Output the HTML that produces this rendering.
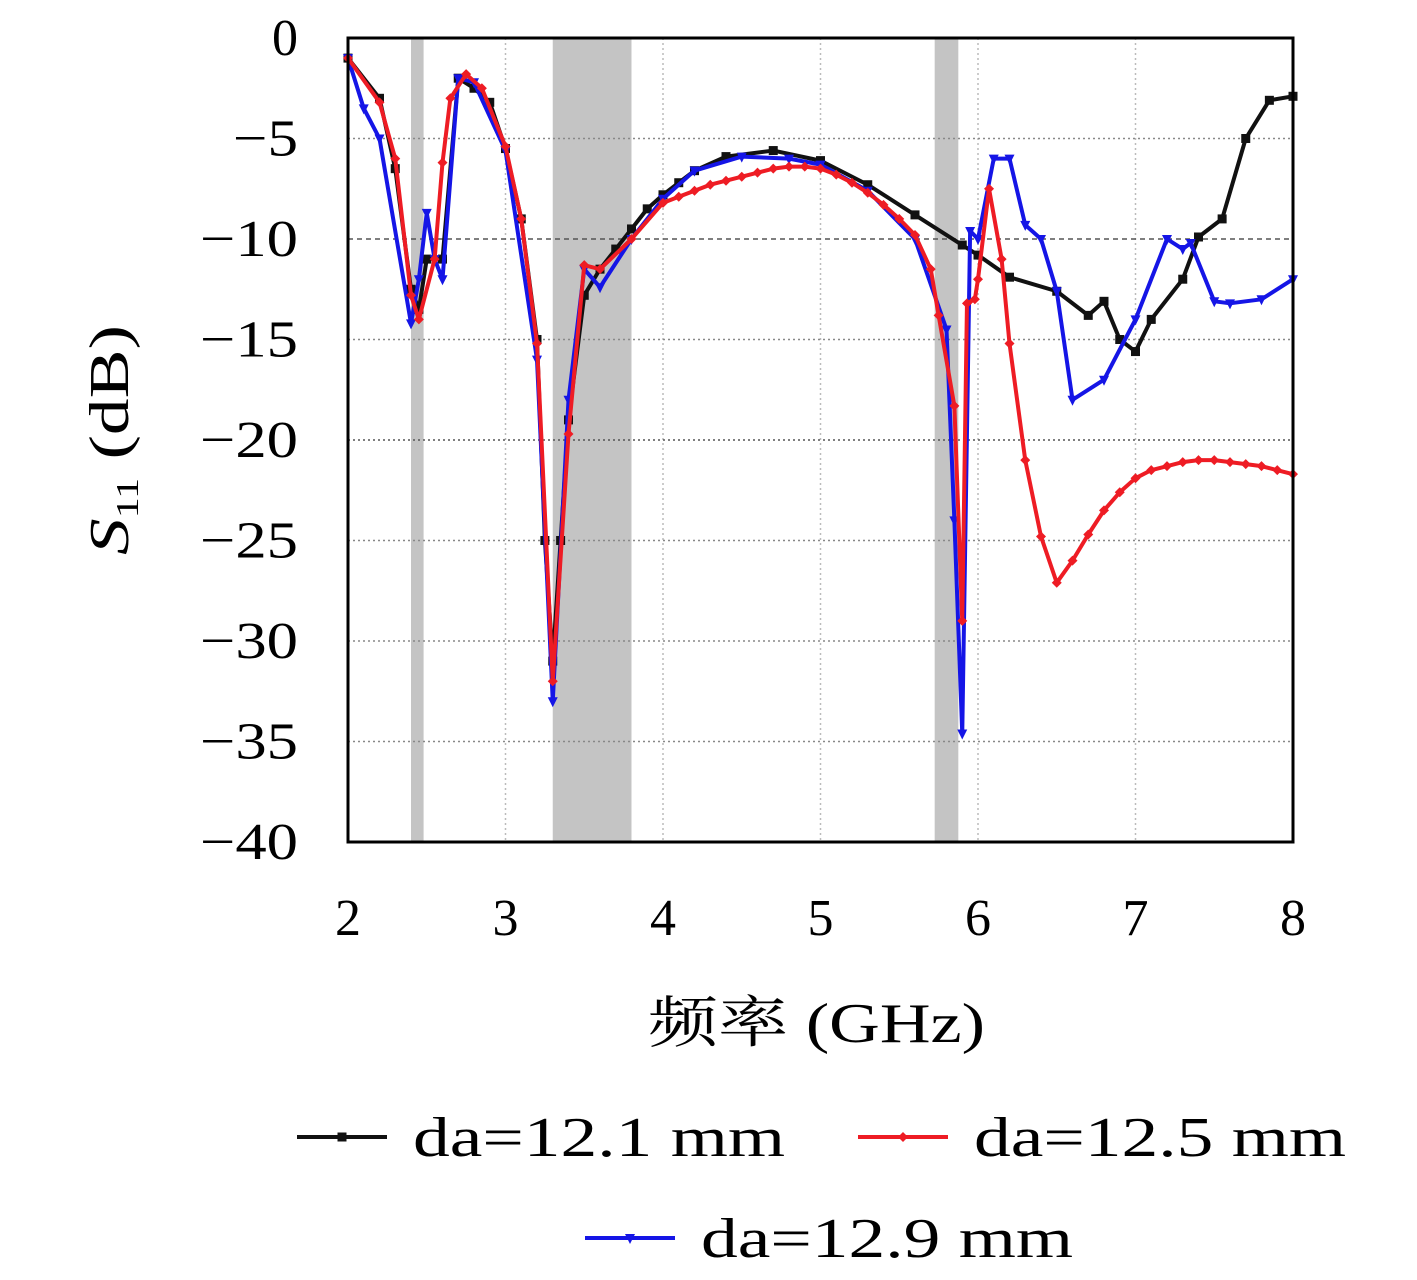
<!DOCTYPE html>
<html><head><meta charset="utf-8"><style>
body{margin:0;background:#fff;width:1417px;height:1275px;overflow:hidden}
svg text{font-family:"Liberation Serif","Noto Serif CJK SC",serif;fill:#000}
</style></head><body>
<svg id="chart" width="1417" height="1275" xmlns="http://www.w3.org/2000/svg">
<g id="bands"></g><g id="grid"></g><g id="series"></g><g id="axes"></g>
</svg>
<script>
const xTicks=[2,3,4,5,6,7,8];
const yTicks=[0,-5,-10,-15,-20,-25,-30,-35,-40];
const yTickLabels=["0","−5","−10","−15","−20","−25","−30","−35","−40"];
const bandStarts=[2.4,3.3,5.725];
const bandEnds=[2.48,3.8,5.875];
const f121=[2.0,2.2,2.3,2.4,2.45,2.5,2.6,2.7,2.8,2.9,3.0,3.1,3.2,3.25,3.3,3.35,3.4,3.5,3.6,3.7,3.8,3.9,4.0,4.1,4.2,4.4,4.7,5.0,5.3,5.6,5.9,6.0,6.2,6.5,6.7,6.8,6.9,7.0,7.1,7.3,7.4,7.55,7.7,7.85,8.0];
const s121=[-1,-3,-6.5,-12.5,-13.5,-11,-11,-2,-2.5,-3.2,-5.5,-9,-15,-25,-31,-25,-19,-12.8,-11.5,-10.5,-9.5,-8.5,-7.8,-7.2,-6.6,-5.9,-5.6,-6.1,-7.3,-8.8,-10.3,-10.8,-11.9,-12.6,-13.8,-13.1,-15,-15.6,-14,-12,-9.9,-9,-5,-3.1,-2.9];
const f125=[2.0,2.2,2.3,2.4,2.45,2.55,2.6,2.65,2.75,2.85,3.0,3.1,3.2,3.3,3.4,3.5,3.6,3.8,4.0,4.1,4.2,4.3,4.4,4.5,4.6,4.7,4.8,4.9,5.0,5.1,5.2,5.3,5.4,5.5,5.6,5.7,5.75,5.85,5.9,5.93,5.98,6.0,6.07,6.15,6.2,6.3,6.4,6.5,6.6,6.7,6.8,6.9,7.0,7.1,7.2,7.3,7.4,7.5,7.6,7.7,7.8,7.9,8.0];
const s125=[-1,-3.2,-6,-12.8,-14,-11,-6.2,-3,-1.8,-2.5,-5.4,-9,-15.2,-32,-19.7,-11.3,-11.5,-10,-8.2,-7.9,-7.6,-7.3,-7.1,-6.9,-6.7,-6.5,-6.4,-6.4,-6.5,-6.8,-7.2,-7.7,-8.3,-9,-9.8,-11.5,-13.8,-18.3,-29,-13.2,-13,-12,-7.5,-11,-15.2,-21,-24.8,-27.1,-26,-24.7,-23.5,-22.6,-21.9,-21.5,-21.3,-21.1,-21,-21,-21.1,-21.2,-21.3,-21.5,-21.7];
const f129=[2.0,2.1,2.2,2.4,2.45,2.5,2.55,2.6,2.7,2.8,3.0,3.2,3.3,3.4,3.5,3.6,3.8,4.0,4.2,4.5,4.8,5.0,5.3,5.6,5.8,5.85,5.9,5.95,6.0,6.1,6.2,6.3,6.4,6.5,6.6,6.8,7.0,7.2,7.3,7.35,7.5,7.6,7.8,8.0];
const s129=[-1,-3.5,-5,-14.2,-12,-8.7,-11,-12,-2,-2.2,-5.6,-16,-33,-18,-11.5,-12.4,-10,-8,-6.6,-5.9,-6,-6.3,-7.6,-10,-14.5,-24,-34.6,-9.6,-10,-6,-6,-9.3,-10,-12.6,-18,-17,-14,-10,-10.5,-10.2,-13.1,-13.2,-13,-12];
const L=348,R=1293,T=38,B=842;
const xs=v=>L+(v-2)/6*(R-L);
const ys=v=>T+(0-v)/40*(B-T);
const NS="http://www.w3.org/2000/svg";
function mk(tag,attrs,parent){const e=document.createElementNS(NS,tag);for(const k in attrs)e.setAttribute(k,attrs[k]);parent.appendChild(e);return e;}
const bands=document.getElementById('bands'),grid=document.getElementById('grid'),ser=document.getElementById('series'),axes=document.getElementById('axes');
bandStarts.forEach((s,i)=>{const r=mk('rect',{x:xs(s),y:T,width:xs(bandEnds[i])-xs(s),height:B-T,fill:'#c4c4c4'},bands);

});
xTicks.forEach((t,i)=>{if(t>2&&t<8){const l=mk('line',{x1:xs(t),x2:xs(t),y1:T,y2:B,stroke:'#bbb','stroke-width':1.5,'stroke-dasharray':'2 3'},grid);

}
const tx=mk('text',{x:xs(t),y:935,'font-size':52,'text-anchor':'middle'},axes);tx.textContent=t;

});
yTicks.forEach((t,i)=>{if(t<0&&t>-40){const l=mk('line',{x1:L,x2:R,y1:ys(t),y2:ys(t),stroke:(t==-10||t==-20)?'#555':'#888','stroke-width':1.5,'stroke-dasharray':t==-10?'5 4':'2 3'},grid);

}
const lab=yTickLabels[i];
const a={x:298,y:ys(t)+17,'font-size':52,'text-anchor':'end'};
if(lab.length==3){a.textLength=98;a.lengthAdjust='spacingAndGlyphs';}
else if(lab.length==2){a.textLength=65;a.lengthAdjust='spacingAndGlyphs';}
const tx=mk('text',a,axes);tx.textContent=lab;

});
const fr=mk('rect',{x:L,y:T,width:R-L,height:B-T,fill:'none',stroke:'#000','stroke-width':3},axes);


function marker(type,x,y,c,p){
 if(type=='sq')return mk('rect',{x:x-4.5,y:y-4.5,width:9,height:9,fill:c},p);
 if(type=='di')return mk('polygon',{points:`${x},${y-5} ${x+5},${y} ${x},${y+5} ${x-5},${y}`,fill:c},p);
 return mk('polygon',{points:`${x-5},${y-4} ${x+5},${y-4} ${x},${y+6}`,fill:c},p);
}
function drawSeries(fx,sy,c,type,name){
 const g=mk('g',{},ser);
 
 
 const pl=mk('polyline',{points:fx.map((f,i)=>xs(f)+','+ys(sy[i])).join(' '),fill:'none',stroke:c,'stroke-width':4,'stroke-linejoin':'round'},g);
 
 
 fx.forEach((f,i)=>{const m=marker(type,xs(f),ys(sy[i]),c,g);
 
 });
}
drawSeries(f121,s121,'#111','sq','series-da-12-1');
drawSeries(f129,s129,'#1515e6','tr','series-da-12-9');
drawSeries(f125,s125,'#ee1c24','di','series-da-12-5');
const yt=mk('text',{transform:'translate(128,440) rotate(-90)','font-size':56,'text-anchor':'middle',textLength:230,lengthAdjust:'spacingAndGlyphs'},axes);
yt.innerHTML='<tspan font-style="italic">S</tspan><tspan font-size="32" dy="10">11</tspan><tspan dy="-10"> (dB)</tspan>';


const xt=mk('text',{x:648,y:1042,'font-size':56,textLength:337,lengthAdjust:'spacingAndGlyphs'},axes);xt.textContent='频率 (GHz)';


const legs=[[297,1137,'#111','sq','da=12.1 mm'],[858,1137,'#ee1c24','di','da=12.5 mm'],[585,1238,'#1515e6','tr','da=12.9 mm']];
legs.forEach(a=>{const g=mk('g',{},axes);


mk('line',{x1:a[0],x2:a[0]+90,y1:a[1],y2:a[1],stroke:a[2],'stroke-width':4},g);
marker(a[3],a[0]+45,a[1],a[2],g);
const t=mk('text',{x:a[0]+116,y:a[1]+19,'font-size':56,textLength:372,lengthAdjust:'spacingAndGlyphs'},g);t.textContent=a[4];});
</script>
</body></html>
